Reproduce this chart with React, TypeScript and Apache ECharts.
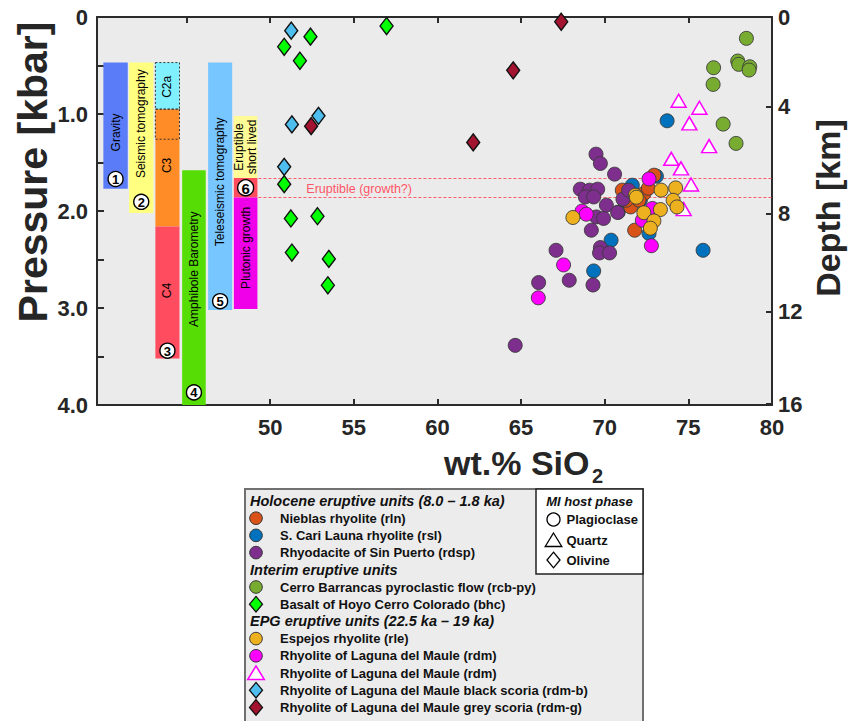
import React, { useEffect, useRef } from "react";
import * as echarts from "echarts";

const FONT = '"Liberation Sans", Arial, Helvetica, sans-serif';

// ---------- Axes ----------
const silicaMin = 39.65;
const silicaMax = 80;
const silicaTicksTop = [45, 50, 55, 60, 65, 70, 75, 80];
const silicaTicksBottom = [50, 55, 60, 65, 70, 75, 80];
const pressureMax = 4;
const depthLabels = ["0", "4", "8", "12", "16"];
const depthTickPressure = [0, 0.925, 2.025, 3.04, 3.99];

// ---------- Geophysical / petrological depth zones ----------
const zoneNames = [
  "Gravity",
  "Seismic tomography",
  "C2a",
  "C3",
  "C4",
  "Amphibole Barometry",
  "Teleseismic tomography",
  "Eruptible\nshort lived",
  "",
  "Plutonic growth",
];
const zoneSiO2From = [40.03, 41.57, 43.14, 43.14, 43.14, 44.74, 46.29, 47.83, 47.83, 47.83];
const zoneSiO2To = [41.49, 43.02, 44.58, 44.58, 44.58, 46.15, 47.73, 49.24, 49.24, 49.24];
const zonePTop = [0.47, 0.47, 0.47, 0.95, 2.16, 1.58, 0.47, 1.02, 1.66, 1.86];
const zonePBottom = [1.77, 2.02, 0.95, 2.16, 3.52, 4.0, 3.02, 1.66, 1.86, 3.01];
const zoneBadges = ["1", "2", "", "", "3", "4", "5", "", "6", ""];
const dashedBoxSiO2From = [43.14, 43.14];
const dashedBoxSiO2To = [44.58, 44.58];
const dashedBoxPTop = [0.47, 0.95];
const dashedBoxPBottom = [0.95, 1.26];

// eruptible band
const eruptibleBand = [1.66, 1.86];
const eruptibleFromSiO2 = 49.3;
const eruptibleLabel = "Eruptible (growth?)";

// ---------- Melt inclusion data [SiO2 wt.%, P kbar] ----------
const rlnPoints = [
  [72.95, 1.631], [71.05, 1.785], [71.55, 1.958], [71.79, 2.198], [72.35, 1.819],
  [72.05, 1.889], [72.61, 1.765], [71.29, 1.889],
];
const rslPoints = [
  [73.73, 1.07], [75.88, 2.405], [70.38, 2.301], [69.34, 2.618], [71.65, 1.734],
  [72.65, 2.232], [70.81, 2.012], [72.13, 1.889], [73.09, 1.641],
];
const rdspPoints = [
  [69.48, 1.414], [69.74, 1.51], [70.59, 1.62], [68.54, 1.775], [69.1, 1.785],
  [69.58, 1.775], [68.84, 1.855], [69.34, 1.855], [70.1, 1.94], [69.5, 2.061],
  [69.93, 2.077], [70.77, 2.015], [71.09, 1.878], [71.43, 1.785], [69.2, 2.198],
  [69.74, 2.377], [69.69, 2.432], [70.29, 2.432], [67.09, 2.405], [67.88, 2.714],
  [66.05, 2.738], [69.3, 2.763], [64.65, 3.385],
];
const rcbPoints = [
  [78.47, 0.22], [77.95, 0.454], [78.01, 0.488], [78.67, 0.513], [78.63, 0.547],
  [76.51, 0.523], [76.48, 0.695], [77.08, 1.104], [77.85, 1.303],
];
const bhcPoints = [
  [52.41, 0.203], [50.84, 0.307], [51.78, 0.451], [56.96, 0.093], [50.84, 1.723],
  [51.24, 2.077], [52.83, 2.054], [51.3, 2.428], [53.51, 2.494], [53.45, 2.766],
];
const rlePoints = [
  [68.1, 2.067], [71.83, 1.837], [73.37, 1.785], [74.24, 1.762], [74.09, 1.889],
  [74.32, 1.958], [73.33, 1.985], [72.34, 2.018], [72.94, 2.102], [72.73, 2.177],
  [71.89, 1.858],
];
const rdmPlagPoints = [
  [72.65, 1.669], [68.64, 2.002], [67.54, 2.556], [66.03, 2.895], [72.79, 2.358],
  [72.85, 1.974], [72.25, 2.095], [68.9, 2.033],
];
const rdmQtzPoints = [
  [74.42, 0.864], [75.66, 0.936], [75.06, 1.097], [76.24, 1.331], [73.98, 1.462],
  [74.56, 1.561], [75.16, 1.727], [74.72, 1.981],
];
const rdmbPoints = [[51.26, 0.141], [52.89, 1.019], [51.3, 1.107], [50.84, 1.545]];
const rdmgPoints = [[67.4, 0.049], [64.53, 0.55], [52.45, 1.125], [62.14, 1.293]];

// ---------- Units (legend) ----------
const groupHeaders = [
  "Holocene eruptive units (8.0 – 1.8 ka)",
  "Interim eruptive units",
  "EPG eruptive units (22.5 ka – 19 ka)",
];
const unitNames = [
  "Nieblas rhyolite (rln)",
  "S. Cari Launa rhyolite (rsl)",
  "Rhyodacite of Sin Puerto (rdsp)",
  "Cerro Barrancas pyroclastic flow (rcb-py)",
  "Basalt of Hoyo Cerro Colorado (bhc)",
  "Espejos rhyolite (rle)",
  "Rhyolite of Laguna del Maule (rdm)",
  "Rhyolite of Laguna del Maule (rdm)",
  "Rhyolite of Laguna del Maule black scoria (rdm-b)",
  "Rhyolite of Laguna del Maule grey scoria (rdm-g)",
];
const unitGroup = [0, 0, 0, 1, 1, 2, 2, 2, 2, 2];
const unitPoints = [
  rlnPoints, rslPoints, rdspPoints, rcbPoints, bhcPoints,
  rlePoints, rdmPlagPoints, rdmQtzPoints, rdmbPoints, rdmgPoints,
];
const hostPhases = ["Plagioclase", "Quartz", "Olivine"];
const hostHeader = "MI host phase";

// ---------- Styles ----------
const unitColors = [
  "#D95319", "#0072BD", "#7E2F8E", "#77AC30", "#00FF00",
  "#EDB120", "#FF00FF", "#FF00FF", "#4DBEEE", "#A2142F",
];
const unitSymbols = [
  "circle", "circle", "circle", "circle", "diamond",
  "circle", "circle", "triangle", "diamond", "diamond",
];
const drawOrder = [7, 1, 0, 2, 6, 5, 3, 4, 8, 9];
const zoneColors = [
  "#5b7cf8", "#ffff80", "#80f0ff", "#ff8c26", "#ff4d5f",
  "#56dd06", "#78c6ff", "#fffb96", "#ff4d5f", "#f000e8",
];
const zoneLabelP = [1.19, 1.1, 0.72, 1.53, 2.82, 2.6, 1.7, 1.34, 0, 2.38];
const zoneBadgeP = [1.67, 1.905, 0, 0, 3.44, 3.87, 2.93, 0, 1.76, 0];
const axisColor = "#2b2b2b";
const textColor = "#262626";

function symbolSize(sym: string): any {
  if (sym === "diamond") return [13, 17];
  if (sym === "triangle") return [15, 13];
  return 14;
}

function legendMarker(sym: string, color: string, cx: number, cy: number, hollow?: boolean): any {
  if (sym === "circle") {
    return {
      type: "circle",
      shape: { cx, cy, r: hollow ? 6.5 : 6.3 },
      style: hollow
        ? { fill: "#fff", stroke: "#000", lineWidth: 1.3 }
        : { fill: color, stroke: "#333", lineWidth: 1 },
    };
  }
  if (sym === "diamond") {
    return {
      type: "polygon",
      shape: { points: [[cx, cy - 7.8], [cx + 6.5, cy], [cx, cy + 7.8], [cx - 6.5, cy]] },
      style: hollow
        ? { fill: "#fff", stroke: "#000", lineWidth: 1.3 }
        : { fill: color, stroke: "#111", lineWidth: 1.3 },
    };
  }
  return {
    type: "polygon",
    shape: { points: [[cx, cy - 7], [cx + 8.3, cy + 6.5], [cx - 8.3, cy + 6.5]] },
    style: hollow
      ? { fill: "#fff", stroke: "#000", lineWidth: 1.3 }
      : { fill: "#fff", stroke: color, lineWidth: 1.5 },
  };
}

function buildLegend(): any[] {
  const els: any[] = [];
  els.push({
    type: "rect",
    shape: { x: 245, y: 489, width: 398, height: 245 },
    style: { fill: "#ececec", stroke: "#707070", lineWidth: 2 },
  });
  let y = 501;
  const step = 17.2;
  groupHeaders.forEach((h, g) => {
    els.push({
      type: "text",
      x: 250,
      y,
      style: {
        text: h,
        font: `italic bold 14.5px ${FONT}`,
        fill: "#111",
        align: "left",
        verticalAlign: "middle",
      },
    });
    y += step;
    unitNames.forEach((n, i) => {
      if (unitGroup[i] !== g) return;
      els.push(legendMarker(unitSymbols[i], unitColors[i], 256, y));
      els.push({
        type: "text",
        x: 280,
        y,
        style: {
          text: n,
          font: `bold 13px ${FONT}`,
          fill: "#111",
          align: "left",
          verticalAlign: "middle",
        },
      });
      y += step;
    });
  });
  // host phase box
  els.push({
    type: "rect",
    shape: { x: 536, y: 489, width: 107, height: 85 },
    style: { fill: "#fff", stroke: "#222", lineWidth: 1.5 },
  });
  els.push({
    type: "text",
    x: 589.5,
    y: 501,
    style: {
      text: hostHeader,
      font: `italic bold 13px ${FONT}`,
      fill: "#111",
      align: "center",
      verticalAlign: "middle",
    },
  });
  const hostSyms = ["circle", "triangle", "diamond"];
  const hostY = [519.5, 540, 560];
  hostPhases.forEach((p, i) => {
    els.push(legendMarker(hostSyms[i], "#000", 553.5, hostY[i], true));
    els.push({
      type: "text",
      x: 566.5,
      y: hostY[i],
      style: {
        text: p,
        font: `bold 13px ${FONT}`,
        fill: "#111",
        align: "left",
        verticalAlign: "middle",
      },
    });
  });
  return els;
}

function buildOption(): any {
  const zoneData = zoneNames.map((_, i) => [zoneSiO2From[i], zonePTop[i], zoneSiO2To[i], zonePBottom[i]]);
  const dashedData = dashedBoxPTop.map((_, i) => [dashedBoxSiO2From[i], dashedBoxPTop[i], dashedBoxSiO2To[i], dashedBoxPBottom[i]]);
  const bandData = eruptibleBand.map((p) => [eruptibleFromSiO2, p]);

  const scatterSeries = drawOrder.map((i) => ({
    type: "scatter",
    name: unitNames[i],
    data: unitPoints[i],
    symbol: unitSymbols[i],
    symbolSize: symbolSize(unitSymbols[i]),
    itemStyle:
      unitSymbols[i] === "triangle"
        ? { color: "#ffffff", borderColor: unitColors[i], borderWidth: 1.5, opacity: 1 }
        : unitSymbols[i] === "diamond"
        ? { color: unitColors[i], borderColor: "#111", borderWidth: 1.4, opacity: 1 }
        : { color: unitColors[i], borderColor: "#3a3a3a", borderWidth: 0.9, opacity: 1 },
    emphasis: { disabled: true },
    z: 5,
  }));

  return {
    animation: false,
    backgroundColor: "#ffffff",
    grid: {
      left: 97,
      right: 76,
      top: 17,
      bottom: 316,
      show: true,
      backgroundColor: "#ebebeb",
      borderWidth: 0,
    },
    xAxis: [
      {
        type: "value",
        position: "bottom",
        min: silicaMin,
        max: silicaMax,
        axisLine: { show: true, onZero: false, lineStyle: { color: axisColor, width: 2 } },
        axisTick: {
          show: true,
          inside: true,
          length: 6,
          customValues: silicaTicksBottom,
          lineStyle: { color: axisColor, width: 2 },
        },
        axisLabel: {
          customValues: silicaTicksBottom,
          margin: 11,
          fontSize: 22,
          fontWeight: "bold",
          fontFamily: FONT,
          color: textColor,
        },
        splitLine: { show: false },
      },
      {
        type: "value",
        position: "top",
        min: silicaMin,
        max: silicaMax,
        axisLine: { show: true, onZero: false, lineStyle: { color: axisColor, width: 2 } },
        axisTick: {
          show: true,
          inside: true,
          length: 6,
          customValues: silicaTicksTop,
          lineStyle: { color: axisColor, width: 2 },
        },
        axisLabel: { show: false },
        splitLine: { show: false },
      },
    ],
    yAxis: [
      {
        type: "value",
        position: "left",
        inverse: true,
        min: 0,
        max: pressureMax,
        interval: 0.5,
        axisLine: { show: true, onZero: false, lineStyle: { color: axisColor, width: 2 } },
        axisTick: { show: true, inside: true, length: 7, lineStyle: { color: axisColor, width: 2 } },
        axisLabel: {
          showMinLabel: true,
          showMaxLabel: true,
          margin: 9,
          fontSize: 22,
          fontWeight: "bold",
          fontFamily: FONT,
          color: textColor,
          formatter: (v: number) =>
            Math.abs(v - Math.round(v)) < 1e-6 ? (Math.round(v) === 0 ? "0" : v.toFixed(1)) : "",
        },
        splitLine: { show: false },
      },
      {
        type: "value",
        position: "right",
        inverse: true,
        min: 0,
        max: pressureMax,
        axisLine: { show: true, onZero: false, lineStyle: { color: axisColor, width: 2 } },
        axisTick: {
          show: true,
          inside: true,
          length: 6,
          customValues: depthTickPressure,
          lineStyle: { color: axisColor, width: 2 },
        },
        axisLabel: {
          customValues: depthTickPressure,
          showMinLabel: true,
          showMaxLabel: true,
          margin: 6,
          fontSize: 22,
          fontWeight: "bold",
          fontFamily: FONT,
          color: textColor,
          formatter: (v: number) => {
            let best = 0;
            depthTickPressure.forEach((p, i) => {
              if (Math.abs(p - v) < Math.abs(depthTickPressure[best] - v)) best = i;
            });
            return depthLabels[best];
          },
        },
        splitLine: { show: false },
      },
    ],
    graphic: [
      {
        type: "text",
        x: 33,
        y: 172,
        rotation: Math.PI / 2,
        style: {
          text: "Pressure [kbar]",
          font: `bold 41px ${FONT}`,
          fill: textColor,
          align: "center",
          verticalAlign: "middle",
        },
      },
      {
        type: "text",
        x: 828,
        y: 208,
        rotation: Math.PI / 2,
        style: {
          text: "Depth [km]",
          font: `bold 34px ${FONT}`,
          fill: textColor,
          align: "center",
          verticalAlign: "middle",
        },
      },
      {
        type: "text",
        x: 444,
        y: 463,
        style: {
          text: "wt.% SiO",
          font: `bold 34px ${FONT}`,
          fill: textColor,
          align: "left",
          verticalAlign: "middle",
        },
      },
      {
        type: "text",
        x: 592,
        y: 476,
        style: {
          text: "2",
          font: `bold 20px ${FONT}`,
          fill: textColor,
          align: "left",
          verticalAlign: "middle",
        },
      },
      ...buildLegend(),
    ],
    series: [
      {
        type: "custom",
        name: "zones",
        coordinateSystem: "cartesian2d",
        data: zoneData,
        z: 2,
        silent: true,
        renderItem: (params: any, api: any) => {
          const i = params.dataIndex;
          const a = api.coord([api.value(0), api.value(1)]);
          const b = api.coord([api.value(2), api.value(3)]);
          const cx = (a[0] + b[0]) / 2;
          const children: any[] = [
            {
              type: "rect",
              shape: { x: a[0], y: a[1], width: b[0] - a[0], height: b[1] - a[1] },
              style: { fill: zoneColors[i] },
            },
          ];
          if (zoneNames[i]) {
            const ly = api.coord([api.value(0), zoneLabelP[i]])[1];
            children.push({
              type: "text",
              x: cx,
              y: ly,
              rotation: Math.PI / 2,
              style: {
                text: zoneNames[i],
                font: `12px ${FONT}`,
                fill: "#000",
                align: "center",
                verticalAlign: "middle",
                lineHeight: 12.5,
              },
            });
          }
          if (zoneBadges[i]) {
            const by = api.coord([api.value(0), zoneBadgeP[i]])[1];
            const r = i === 8 ? 8 : 7.5;
            children.push({
              type: "circle",
              shape: { cx, cy: by, r },
              style: { fill: "#fff", stroke: "#000", lineWidth: 1.4 },
            });
            children.push({
              type: "text",
              x: cx,
              y: by + 0.5,
              style: {
                text: zoneBadges[i],
                font: `bold ${i === 8 ? 15 : 13}px ${FONT}`,
                fill: "#000",
                align: "center",
                verticalAlign: "middle",
              },
            });
          }
          return { type: "group", children };
        },
      },
      {
        type: "custom",
        name: "dashed",
        coordinateSystem: "cartesian2d",
        data: dashedData,
        z: 3,
        silent: true,
        renderItem: (params: any, api: any) => {
          const a = api.coord([api.value(0), api.value(1)]);
          const b = api.coord([api.value(2), api.value(3)]);
          return {
            type: "rect",
            shape: { x: a[0], y: a[1], width: b[0] - a[0], height: b[1] - a[1] },
            style: { fill: "none", stroke: "#333", lineWidth: 1, lineDash: [2, 2] },
          };
        },
      },
      {
        type: "custom",
        name: "band",
        coordinateSystem: "cartesian2d",
        data: bandData,
        z: 3,
        silent: true,
        renderItem: (params: any, api: any) => {
          const a = api.coord([api.value(0), api.value(1)]);
          const b = api.coord([silicaMax, api.value(1)]);
          const children: any[] = [
            {
              type: "line",
              shape: { x1: a[0], y1: Math.round(a[1]) + 0.5, x2: b[0], y2: Math.round(b[1]) + 0.5 },
              style: { stroke: "#ff5c6c", lineWidth: 1.2, lineDash: [3, 2] },
            },
          ];
          if (params.dataIndex === 0) {
            const mid = (eruptibleBand[0] + eruptibleBand[1]) / 2;
            const t = api.coord([55.32, mid]);
            children.push({
              type: "text",
              x: t[0],
              y: t[1] + 1,
              style: {
                text: eruptibleLabel,
                font: `12.5px ${FONT}`,
                fill: "#ff5568",
                align: "center",
                verticalAlign: "middle",
              },
            });
          }
          return { type: "group", children };
        },
      },
      ...scatterSeries,
    ],
  };
}

export default function App() {
  const ref = useRef<HTMLDivElement>(null);
  useEffect(() => {
    if (!ref.current) return;
    const chart = echarts.init(ref.current, null, { renderer: "svg" });
    chart.setOption(buildOption());
    return () => chart.dispose();
  }, []);
  return (
    <div
      ref={ref}
      style={{ position: "fixed", left: 0, top: 0, width: 848, height: 721, background: "#fff" }}
    />
  );
}
